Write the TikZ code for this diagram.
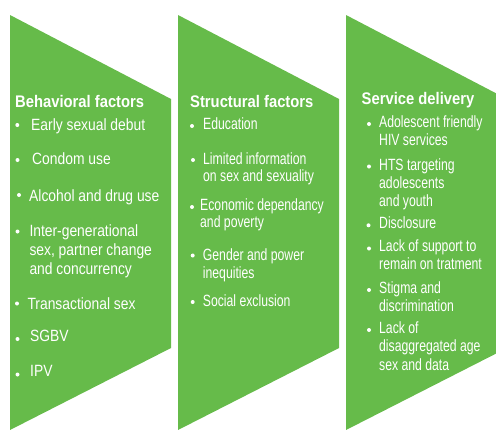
\documentclass[tikz,border=0pt]{standalone}
\usepackage{fontspec}
\setmainfont{Liberation Sans}
% condensed looks, obtained by horizontal scaling
\newfontfamily\headfam[FakeStretch=0.88]{Liberation Sans}
\newfontfamily\widefam[FakeStretch=0.85]{Liberation Sans}
\newfontfamily\narrowfam[FakeStretch=0.75]{Liberation Sans}
\definecolor{leaf}{HTML}{66BB4A}
\tikzset{
  panel/.style={fill=leaf},
  head/.style={anchor=base west, inner sep=0pt, text=white,
    font=\headfam\bfseries\fontsize{16.8}{20}\selectfont},
  wideline/.style={anchor=base west, inner sep=0pt, text=white,
    font=\widefam\fontsize{16.3}{18}\selectfont},
  narrowline/.style={anchor=base west, inner sep=0pt, text=white,
    font=\narrowfam\fontsize{16.3}{18}\selectfont},
  dot/.style={circle, fill=white, inner sep=0pt, minimum size=4pt},
}
\begin{document}
\begin{tikzpicture}[x=1pt, y=-1pt]
\useasboundingbox (0,0) rectangle (496,429);
\clip (0,0) rectangle (496,429);

% three chevron panels
\fill[panel] (10,15) -- (171,99) -- (171,348) -- (10,430) -- cycle;
\fill[panel] (178,15) -- (339,99) -- (339,348) -- (178,430) -- cycle;
\fill[panel] (346,15) -- (507,99) -- (507,348) -- (346,430) -- cycle;

% ---- Behavioral factors
\node[head] (h1) at (15,107) {Behavioral factors};
\node[dot] (d11) at (17.3,125) {};
\node[wideline] (t11) at (31,130.3) {Early sexual debut};
\node[dot] (d12) at (17.5,160) {};
\node[wideline] (t12) at (32,164) {Condom use};
\node[dot] (d13) at (19,195) {};
\node[wideline] (t13) at (29,201) {Alcohol and drug use};
\node[dot] (d14) at (17.5,231.5) {};
\node[wideline] (t14a) at (29.3,236.7) {Inter-generational};
\node[wideline] (t14b) at (29.3,255.5) {sex, partner change};
\node[wideline] (t14c) at (29.3,274.3) {and concurrency};
\node[dot] (d15) at (17,303.5) {};
\node[wideline] (t15) at (27.3,309.3) {Transactional sex};
\node[dot] (d16) at (17.5,339) {};
\node[wideline] (t16) at (30,341) {SGBV};
\node[dot] (d17) at (17.5,374.5) {};
\node[wideline] (t17) at (30,376.7) {IPV};

% ---- Structural factors
\node[head] (h2) at (190,107.3) {Structural factors};
\node[dot] (d21) at (192,126) {};
\node[narrowline] (t21) at (203,129.7) {Education};
\node[dot] (d22) at (193,160) {};
\node[narrowline] (t22a) at (203,164) {Limited information};
\node[narrowline] (t22b) at (203,181.7) {on sex and sexuality};
\node[dot] (d23) at (192,207) {};
\node[narrowline] (t23a) at (200,210) {Economic dependancy};
\node[narrowline] (t23b) at (200,227.7) {and poverty};
\node[dot] (d24) at (192.7,255.5) {};
\node[narrowline] (t24a) at (202.7,260) {Gender and power};
\node[narrowline] (t24b) at (202.7,278) {inequities};
\node[dot] (d25) at (192.7,302) {};
\node[narrowline] (t25) at (202.7,306.7) {Social exclusion};

% ---- Service delivery
\node[head] (h3) at (361.5,104) {Service delivery};
\node[dot] (d31) at (369,124) {};
\node[narrowline] (t31a) at (379,127) {Adolescent friendly};
\node[narrowline] (t31b) at (379,145) {HIV services};
\node[dot] (d32) at (369,166.5) {};
\node[narrowline] (t32a) at (379,170) {HTS targeting};
\node[narrowline] (t32b) at (379,188.3) {adolescents};
\node[narrowline] (t32c) at (379,206.5) {and youth};
\node[dot] (d33) at (368.5,225.3) {};
\node[narrowline] (t33) at (379,228) {Disclosure};
\node[dot] (d34) at (369,248.5) {};
\node[narrowline] (t34a) at (379,251.7) {Lack of support to};
\node[narrowline] (t34b) at (379,269.5) {remain on tratment};
\node[dot] (d35) at (369,290) {};
\node[narrowline] (t35a) at (379,293.3) {Stigma and};
\node[narrowline] (t35b) at (379,311.7) {discrimination};
\node[dot] (d36) at (369,330) {};
\node[narrowline] (t36a) at (379,333.3) {Lack of};
\node[narrowline] (t36b) at (379,351.7) {disaggregated age};
\node[narrowline] (t36c) at (379,370) {sex and data};
\end{tikzpicture}
\end{document}
